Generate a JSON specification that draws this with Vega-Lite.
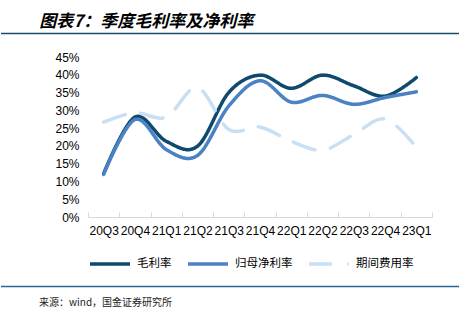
{
  "$schema": "https://vega.github.io/schema/vega-lite/v6.json",
  "width": 344,
  "height": 160,
  "padding": {"left": 0, "top": 12, "right": 5, "bottom": 5},
  "background": "white",
  "title": {
    "text": "图表7：季度毛利率及净利率",
    "anchor": "start",
    "frame": "bounds",
    "dx": 39,
    "offset": 2,
    "font": "Noto Sans CJK SC",
    "fontSize": 17,
    "fontWeight": "bold",
    "fontStyle": "italic",
    "color": "#000000"
  },
  "config": {
    "view": {"stroke": null},
    "axis": {"grid": false},
    "axisY": {
      "domain": false,
      "ticks": false,
      "labelFont": "Liberation Sans",
      "labelFontSize": 12,
      "labelColor": "#000000",
      "labelPadding": 9,
      "labelOverlap": false
    }
  },
  "layer": [
    {
      "data": {
        "values": [
          {"q": "20Q3", "series": "毛利率", "v": 0.122},
          {"q": "20Q4", "series": "毛利率", "v": 0.281},
          {"q": "21Q1", "series": "毛利率", "v": 0.213},
          {"q": "21Q2", "series": "毛利率", "v": 0.199},
          {"q": "21Q3", "series": "毛利率", "v": 0.350},
          {"q": "21Q4", "series": "毛利率", "v": 0.399},
          {"q": "22Q1", "series": "毛利率", "v": 0.362},
          {"q": "22Q2", "series": "毛利率", "v": 0.399},
          {"q": "22Q3", "series": "毛利率", "v": 0.369},
          {"q": "22Q4", "series": "毛利率", "v": 0.340},
          {"q": "23Q1", "series": "毛利率", "v": 0.392},
          {"q": "20Q3", "series": "归母净利率", "v": 0.120},
          {"q": "20Q4", "series": "归母净利率", "v": 0.274},
          {"q": "21Q1", "series": "归母净利率", "v": 0.190},
          {"q": "21Q2", "series": "归母净利率", "v": 0.173},
          {"q": "21Q3", "series": "归母净利率", "v": 0.312},
          {"q": "21Q4", "series": "归母净利率", "v": 0.383},
          {"q": "22Q1", "series": "归母净利率", "v": 0.323},
          {"q": "22Q2", "series": "归母净利率", "v": 0.342},
          {"q": "22Q3", "series": "归母净利率", "v": 0.317},
          {"q": "22Q4", "series": "归母净利率", "v": 0.336},
          {"q": "23Q1", "series": "归母净利率", "v": 0.352},
          {"q": "20Q3", "series": "期间费用率", "v": 0.267},
          {"q": "20Q4", "series": "期间费用率", "v": 0.293},
          {"q": "21Q1", "series": "期间费用率", "v": 0.281},
          {"q": "21Q2", "series": "期间费用率", "v": 0.364},
          {"q": "21Q3", "series": "期间费用率", "v": 0.246},
          {"q": "21Q4", "series": "期间费用率", "v": 0.253},
          {"q": "22Q1", "series": "期间费用率", "v": 0.213},
          {"q": "22Q2", "series": "期间费用率", "v": 0.188},
          {"q": "22Q3", "series": "期间费用率", "v": 0.232},
          {"q": "22Q4", "series": "期间费用率", "v": 0.276},
          {"q": "23Q1", "series": "期间费用率", "v": 0.196}
        ]
      },
      "mark": {"type": "line", "interpolate": "cardinal", "strokeWidth": 3.5, "strokeCap": "round"},
      "encoding": {
        "x": {
          "field": "q",
          "type": "ordinal",
          "sort": null,
          "scale": {"type": "band", "paddingInner": 0, "paddingOuter": 0},
          "axis": {
            "title": null,
            "tickBand": "extent",
            "labelAngle": 0,
            "labelOverlap": false,
            "labelBound": false,
            "labelFont": "Liberation Sans",
            "labelFontSize": 12,
            "labelColor": "#000000",
            "labelPadding": 13,
            "domainColor": "#d9d9d9",
            "tickColor": "#d9d9d9",
            "tickSize": -5
          }
        },
        "y": {
          "field": "v",
          "type": "quantitative",
          "scale": {"domain": [0, 0.45], "nice": false},
          "axis": {
            "title": null,
            "values": [0, 0.05, 0.1, 0.15, 0.2, 0.25, 0.3, 0.35, 0.4, 0.45],
            "format": ".0%",
            "labelOverlap": false
          }
        },
        "color": {
          "field": "series",
          "type": "nominal",
          "scale": {
            "domain": ["毛利率", "归母净利率", "期间费用率"],
            "range": ["#0f4a6e", "#4a82c4", "#c9dff3"]
          },
          "legend": {
            "title": null,
            "orient": "bottom",
            "direction": "horizontal",
            "symbolType": "stroke",
            "symbolSize": 1600,
            "symbolStrokeWidth": 3.5,
            "labelFont": "Noto Sans CJK SC",
            "labelFontSize": 11.5,
            "labelColor": "#000000",
            "columnPadding": 9,
            "labelOffset": 5,
            "offset": 6
          }
        },
        "strokeDash": {
          "field": "series",
          "type": "nominal",
          "scale": {
            "domain": ["毛利率", "归母净利率", "期间费用率"],
            "range": [[1, 0], [1, 0], [23, 15.5]]
          },
          "legend": {
            "title": null,
            "orient": "bottom",
            "direction": "horizontal",
            "symbolType": "stroke",
            "symbolSize": 1600,
            "symbolStrokeWidth": 3.5,
            "labelFont": "Noto Sans CJK SC",
            "labelFontSize": 11.5,
            "labelColor": "#000000",
            "columnPadding": 9,
            "labelOffset": 5,
            "offset": 6
          }
        }
      }
    },
    {
      "data": {"values": [{"edge": "top"}]},
      "mark": {"type": "rule", "color": "#1d4b6b", "strokeWidth": 1.5},
      "encoding": {
        "x": {"datum": -0.2529, "type": "quantitative", "scale": {"domain": [0, 1]}, "axis": null},
        "x2": {"datum": 1.0785},
        "y": {"datum": 0.516, "type": "quantitative", "axis": {"title": null, "values": [0, 0.05, 0.1, 0.15, 0.2, 0.25, 0.3, 0.35, 0.4, 0.45], "format": ".0%", "labelOverlap": false}}
      }
    },
    {
      "data": {"values": [{"edge": "bottom"}]},
      "mark": {"type": "rule", "color": "#2a6496", "strokeWidth": 1.5},
      "encoding": {
        "x": {"datum": -0.2529, "type": "quantitative", "scale": {"domain": [0, 1]}, "axis": null},
        "x2": {"datum": 1.0785},
        "y": {"datum": -0.1955, "type": "quantitative", "axis": {"title": null, "values": [0, 0.05, 0.1, 0.15, 0.2, 0.25, 0.3, 0.35, 0.4, 0.45], "format": ".0%", "labelOverlap": false}}
      }
    },
    {
      "data": {"values": [{"note": "来源：wind，国金证券研究所"}]},
      "mark": {"type": "text", "align": "left", "baseline": "middle", "font": "Noto Sans CJK SC", "fontSize": 10, "color": "#222222"},
      "encoding": {
        "x": {"datum": -0.1424, "type": "quantitative", "scale": {"domain": [0, 1]}, "axis": null},
        "y": {"datum": -0.242, "type": "quantitative", "axis": {"title": null, "values": [0, 0.05, 0.1, 0.15, 0.2, 0.25, 0.3, 0.35, 0.4, 0.45], "format": ".0%", "labelOverlap": false}},
        "text": {"field": "note"}
      }
    }
  ],
  "resolve": {"scale": {"x": "independent"}}
}
